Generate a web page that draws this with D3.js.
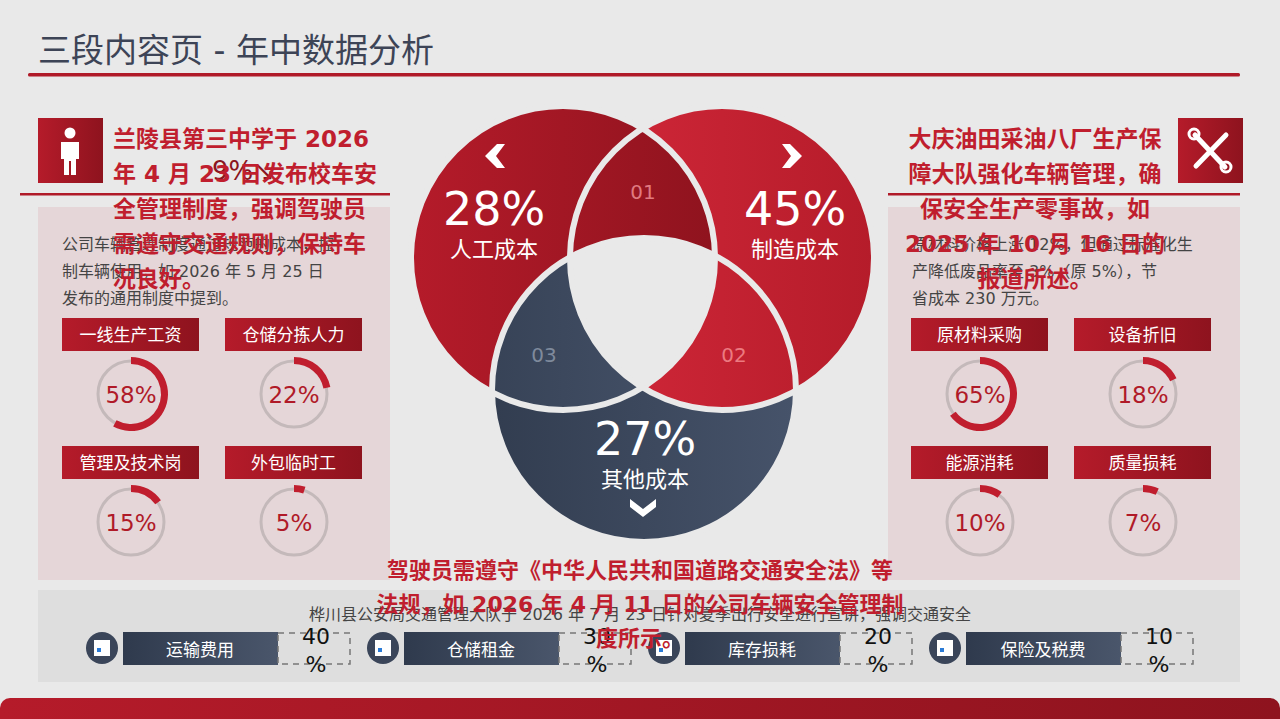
<!DOCTYPE html>
<html><head><meta charset="utf-8">
<script src="https://cdn.jsdelivr.net/npm/d3@7"></script>
<style>body{margin:0;background:#e9e9e9}svg{font-family:"DejaVu Sans","Noto Sans CJK SC",sans-serif}</style>
</head><body><svg id="c" width="1280" height="719"></svg>
<script>
const title="三段内容页 - 年中数据分析";
const vennLabels=["人工成本","制造成本","其他成本"];
const vennValues=[28,45,27];
const lensLabels=["01","02","03"];
const leftGauges=["一线生产工资","仓储分拣人力","管理及技术岗","外包临时工"];
const leftValues=[58,22,15,5];
const rightGauges=["原材料采购","设备折旧","能源消耗","质量损耗"];
const rightValues=[65,18,10,7];
const bottomItems=["运输费用","仓储租金","库存损耗","保险及税费"];
const bottomValues=[40,30,20,10];
const leftBody=["公司车辆管理制度通过规范的成本，控","制车辆使用，如 2026 年 5 月 25 日","发布的通用制度中提到。"];
const rightBody=["原材料价格上涨 12%，但通过标准化生","产降低废品率至 3%（原 5%），节","省成本 230 万元。"];
const leftOverlay=["兰陵县第三中学于 2026","年 4 月 23 日发布校车安","全管理制度，强调驾驶员","需遵守交通规则，保持车","况良好。"];
const rightOverlay=["大庆油田采油八厂生产保","障大队强化车辆管理，确","保安全生产零事故，如","2025 年 10 月 16 日的","报道所述。"];
const bottomOverlay=["驾驶员需遵守《中华人民共和国道路交通安全法》等","法规，如 2026 年 4 月 11 日的公司车辆安全管理制","度所示。"];
const stripText="桦川县公安局交通管理大队于 2026 年 7 月 23 日针对夏季出行安全进行宣讲，强调交通安全";

const svg=d3.select("#c"),BG="#e9e9e9",RED="#b01a28";
const defs=svg.append("defs");
function grad(id,a,b){const g=defs.append("linearGradient").attr("id",id).attr("x1","0").attr("x2","1");
 g.append("stop").attr("offset","0").attr("stop-color",a);g.append("stop").attr("offset","1").attr("stop-color",b);}
grad("gL","#b51b2a","#8f131e");grad("gR","#d3283a","#b51c2a");grad("gB","#323d50","#46536a");
grad("gBox","#b51b2a","#8e131e");grad("gNav","#2f3a4d","#4a566b");
svg.append("rect").attr("width",1280).attr("height",719).attr("fill",BG);
svg.append("text").attr("x",38).attr("y",62).attr("font-size",33).attr("fill","#3d4456").text(title);
svg.append("rect").attr("x",28).attr("y",73).attr("width",1212).attr("height",3.5).attr("rx",1.5).attr("fill",RED);
[38,888].forEach(x=>svg.append("rect").attr("x",x).attr("y",207).attr("width",352).attr("height",373).attr("fill","#e5d6d8"));
svg.append("rect").attr("x",20).attr("y",193).attr("width",370).attr("height",2.5).attr("fill",RED);
svg.append("rect").attr("x",888).attr("y",193).attr("width",352).attr("height",2.5).attr("fill",RED);
svg.append("rect").attr("x",38).attr("y",118).attr("width",65).attr("height",65).attr("fill","url(#gBox)");
const p=svg.append("g").attr("fill","#fff");
p.append("circle").attr("cx",70).attr("cy",133).attr("r",5.5);
p.append("path").attr("d","M61,142 h18 v17 h-3 v16 h-5 v-14 h-2 v14 h-5 v-16 h-3 z");
svg.append("rect").attr("x",1178).attr("y",118).attr("width",65).attr("height",65).attr("fill","url(#gBox)");
const t=svg.append("g").attr("stroke","#fff").attr("stroke-width",5).attr("stroke-linecap","round").attr("fill","none");
t.append("line").attr("x1",1195).attr("y1",135).attr("x2",1225).attr("y2",167);
t.append("line").attr("x1",1226).attr("y1",135).attr("x2",1196).attr("y2",166);
t.append("circle").attr("cx",1194).attr("cy",134).attr("r",5).attr("stroke-width",3);
t.append("circle").attr("cx",1226).attr("cy",167).attr("r",5).attr("stroke-width",3);
leftBody.forEach((s,i)=>svg.append("text").attr("x",62).attr("y",250+i*27).attr("font-size",16).attr("fill","#444").text(s));
rightBody.forEach((s,i)=>svg.append("text").attr("x",912).attr("y",250+i*27).attr("font-size",16).attr("fill","#444").text(s));
svg.append("text").attr("x",212).attr("y",180).attr("font-size",26).attr("fill","#8a1520").text("9%↘");
const arc=d3.arc();
function gauges(names,vals,x0){
 const col=d3.scalePoint().domain([0,1]).range([x0,x0+163]);
 const ang=d3.scaleLinear().domain([0,100]).range([0,2*Math.PI]);
 names.forEach((n,i)=>{
  const x=col(i%2),row=Math.floor(i/2),y=318+row*128;
  svg.append("rect").attr("x",x).attr("y",y).attr("width",137).attr("height",33).attr("fill","url(#gBox)");
  svg.append("text").attr("x",x+68.5).attr("y",y+23).attr("text-anchor","middle").attr("font-size",17).attr("fill","#fff").text(n);
  const cx=x+69,cy=y+76;
  svg.append("circle").attr("cx",cx).attr("cy",cy).attr("r",33).attr("fill","none").attr("stroke","#c4b9ba").attr("stroke-width",3);
  svg.append("path").attr("transform",`translate(${cx},${cy})`).attr("fill","#c01e2e")
   .attr("d",arc({innerRadius:30,outerRadius:37,startAngle:0,endAngle:ang(vals[i])}));
  svg.append("text").attr("x",cx).attr("y",cy+9).attr("text-anchor","middle").attr("font-size",23).attr("fill","#b01a28").text(vals[i]+"%");
 });
}
gauges(leftGauges,leftValues,62);gauges(rightGauges,rightValues,911);
const R=152,C=[[563,258],[722,258],[644,390]],fills=["url(#gL)","url(#gR)","url(#gB)"];
C.forEach((c,i)=>defs.append("clipPath").attr("id","cp"+i).append("circle").attr("cx",c[0]).attr("cy",c[1]).attr("r",R));
C.forEach((c,i)=>svg.append("circle").attr("cx",c[0]).attr("cy",c[1]).attr("r",R).attr("fill",fills[i]));
[[0,1,0],[1,2,1],[0,2,2]].forEach(([a,b,f])=>svg.append("g").attr("clip-path",`url(#cp${b})`)
 .append("circle").attr("cx",C[a][0]).attr("cy",C[a][1]).attr("r",R).attr("fill",fills[f]));
svg.append("g").attr("clip-path","url(#cp2)").append("g").attr("clip-path","url(#cp1)")
 .append("circle").attr("cx",C[0][0]).attr("cy",C[0][1]).attr("r",R).attr("fill",BG);
C.forEach(c=>svg.append("circle").attr("cx",c[0]).attr("cy",c[1]).attr("r",R).attr("fill","none").attr("stroke",BG).attr("stroke-width",6));
const vpos=[[494,225],[795,225],[645,455]];
vennValues.forEach((v,i)=>{
 svg.append("text").attr("x",vpos[i][0]).attr("y",vpos[i][1]).attr("text-anchor","middle").attr("font-size",46).attr("fill","#fff").text(v+"%");
 svg.append("text").attr("x",vpos[i][0]).attr("y",vpos[i][1]+32).attr("text-anchor","middle").attr("font-size",22).attr("fill","#fff").text(vennLabels[i]);
});
const lpos=[[643,199,"#e07a80"],[734,362,"#ec7a80"],[544,362,"#7f8a9c"]];
lensLabels.forEach((s,i)=>svg.append("text").attr("x",lpos[i][0]).attr("y",lpos[i][1]).attr("text-anchor","middle").attr("font-size",20).attr("fill",lpos[i][2]).text(s));
svg.append("path").attr("fill","#fff").attr("d","M497,144 l8,0 l-9,12 l9,12 l-8,0 l-12,-12 z");
svg.append("path").attr("fill","#fff").attr("d","M790,144 l-8,0 l9,12 l-9,12 l8,0 l12,-12 z");
svg.append("path").attr("fill","#fff").attr("d","M630,499 l0,8 l13,10 l13,-10 l0,-8 l-13,10 z");
svg.append("rect").attr("x",38).attr("y",590).attr("width",1202).attr("height",92).attr("fill","#dedede");
svg.append("text").attr("x",640).attr("y",620).attr("text-anchor","middle").attr("font-size",16).attr("fill","#444").text(stripText);
const bx=d3.scaleBand().domain(bottomItems).range([86,1210]);
bottomItems.forEach((n,i)=>{
 const x=bx(n);
 svg.append("circle").attr("cx",x+16).attr("cy",648).attr("r",16).attr("fill","#3a4559");
 svg.append("rect").attr("x",x+8).attr("y",640).attr("width",16).attr("height",16).attr("fill","#fff");
 svg.append("rect").attr("x",x+11).attr("y",648).attr("width",4).attr("height",4).attr("fill","#2b7bd6");
 svg.append("rect").attr("x",x+37).attr("y",632).attr("width",155).attr("height",33).attr("fill","url(#gNav)");
 svg.append("text").attr("x",x+114).attr("y",656).attr("text-anchor","middle").attr("font-size",17).attr("fill","#fff").text(n);
 svg.append("rect").attr("x",x+192).attr("y",633).attr("width",72).attr("height",31).attr("fill","none").attr("stroke","#777").attr("stroke-width",1.5).attr("stroke-dasharray","6,5");
 svg.append("text").attr("x",x+230).attr("y",644).attr("text-anchor","middle").attr("font-size",22).attr("fill","#111").text(bottomValues[i]);
 svg.append("text").attr("x",x+230).attr("y",672).attr("text-anchor","middle").attr("font-size",22).attr("fill","#111").text("%");
});
leftOverlay.forEach((s,i)=>svg.append("text").attr("x",113).attr("y",147+i*35).attr("font-size",23).attr("font-weight","bold").attr("fill","#c01e2e").text(s));
rightOverlay.forEach((s,i)=>svg.append("text").attr("x",1035).attr("y",147+i*35).attr("text-anchor","middle").attr("font-size",23).attr("font-weight","bold").attr("fill","#c01e2e").text(s));
bottomOverlay.forEach((s,i)=>svg.append("text").attr("x",640).attr("y",578+i*34).attr("text-anchor","middle").attr("font-size",22).attr("font-weight","bold").attr("fill","#c01e2e").text(s));
svg.append("rect").attr("x",0).attr("y",698).attr("width",1280).attr("height",30).attr("rx",10).attr("fill","url(#gBox)");
</script></body></html>
